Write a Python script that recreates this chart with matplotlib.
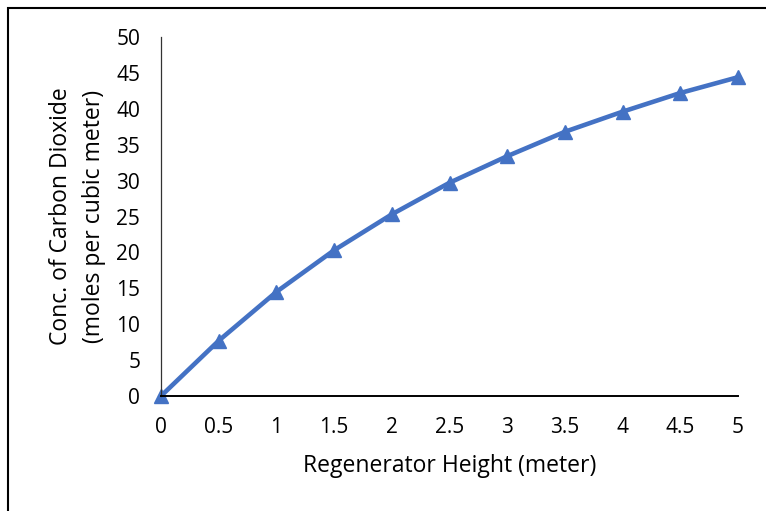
import matplotlib
matplotlib.use("Agg")
import matplotlib.pyplot as plt
from matplotlib.patches import Rectangle

height = [0, 0.5, 1, 1.5, 2, 2.5, 3, 3.5, 4, 4.5, 5]
conc = [0, 7.7, 14.5, 20.3, 25.3, 29.7, 33.4, 36.8, 39.6, 42.2, 44.4]
xticks = [0, 0.5, 1, 1.5, 2, 2.5, 3, 3.5, 4, 4.5, 5]
xtick_labels = ["0", "0.5", "1", "1.5", "2", "2.5", "3", "3.5", "4", "4.5", "5"]
yticks = [0, 5, 10, 15, 20, 25, 30, 35, 40, 45, 50]

plt.rcParams['font.family'] = ['Open Sans', 'DejaVu Sans']

W, H = 766, 511
fig = plt.figure(figsize=(W / 100, H / 100), dpi=100)
ax = fig.add_axes([161 / W, 1 - 396 / H, (738 - 161) / W, (396 - 37) / H])

ax.plot(height, conc, color='#4472C4', linewidth=3.3, marker='^', markersize=10,
        clip_on=False)

ax.set_xlim(0, 5)
ax.set_ylim(0, 50)
ax.set_xticks(xticks)
ax.set_xticklabels(xtick_labels)
ax.set_yticks(yticks)
ax.tick_params(length=0, labelsize=15, colors='black')
ax.tick_params(axis='x', pad=15)
ax.tick_params(axis='y', pad=15)

for s in ['top', 'right']:
  ax.spines[s].set_visible(False)
ax.spines['left'].set_color('#333333')
ax.spines['left'].set_linewidth(0.9)
ax.spines['bottom'].set_color('black')
ax.spines['bottom'].set_linewidth(1.4)

fig.text((161 + 738) / 2 / W, 1 - 466 / H, "Regenerator Height (meter)",
         ha='center', va='center', fontsize=16.5)
fig.text(61 / W, 1 - 216 / H, "Conc. of Carbon Dioxide", rotation=90,
         ha='center', va='center', fontsize=16.5)
fig.text(94 / W, 1 - 216 / H, "(moles per cubic meter)", rotation=90,
         ha='center', va='center', fontsize=16.5)

# outer frame, only left and top edges fall inside the image
fig.patches.append(Rectangle((8 / W, -0.1), 1.2, 1 - 8 / H + 0.1, transform=fig.transFigure,
                             fill=False, edgecolor='black', linewidth=1.5))

fig.savefig("out.png", dpi=100)
